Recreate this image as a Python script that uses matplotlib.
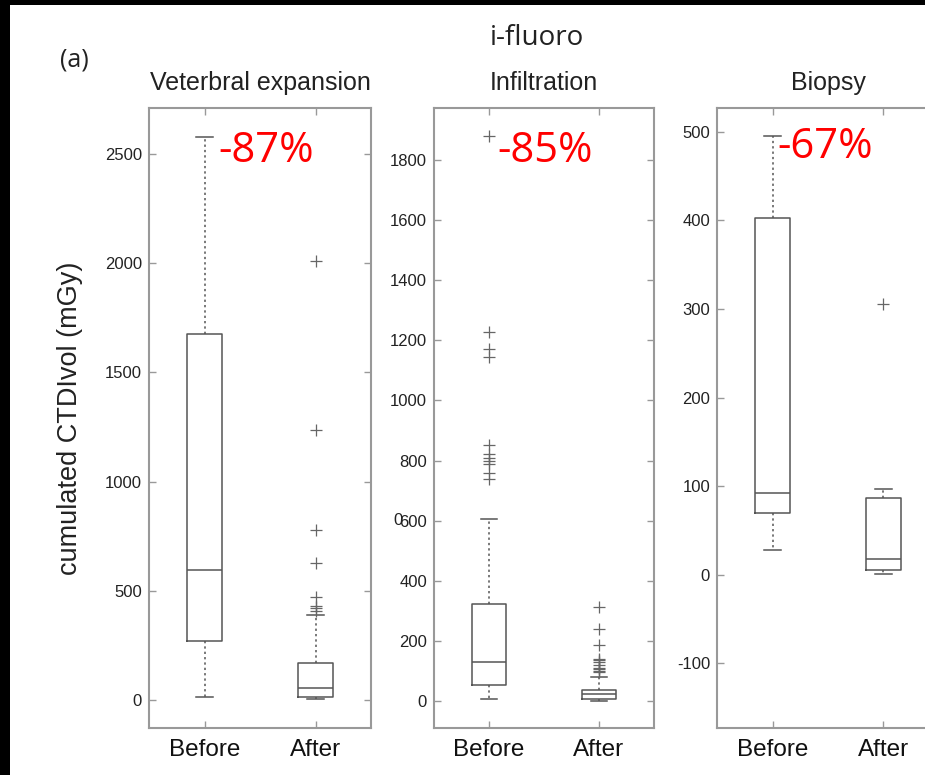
import matplotlib
matplotlib.use('Agg')
import matplotlib.pyplot as plt
from matplotlib.patches import Rectangle

groups = ['Before', 'After']
panel_titles = ['Veterbral expansion', 'Infiltration', 'Biopsy']
reductions = ['-87%', '-85%', '-67%']

# box statistics, [Before, After]
vert_q1 = [270, 14]
vert_med = [595, 55]
vert_q3 = [1675, 169]
vert_lo = [12, 3]
vert_hi = [2580, 389]
vert_fliers = [[], [408, 421, 430, 472, 627, 778, 1236, 2010]]

infil_q1 = [53, 7]
infil_med = [130, 22]
infil_q3 = [323, 37]
infil_lo = [5, 0]
infil_hi = [607, 80]
infil_fliers = [[737, 757, 790, 800, 810, 823, 850, 1143, 1170, 1227, 1880],
                [95, 100, 105, 110, 120, 130, 135, 140, 187, 240, 313]]

biop_q1 = [70, 5]
biop_med = [92, 18]
biop_q3 = [403, 87]
biop_lo = [28, 1]
biop_hi = [495, 97]
biop_fliers = [[], [306]]

vert_ticks = [0, 500, 1000, 1500, 2000, 2500]
infil_ticks = [0, 200, 400, 600, 800, 1000, 1200, 1400, 1600, 1800]
biop_ticks = [-100, 0, 100, 200, 300, 400, 500]


def make_stats(q1, med, q3, lo, hi, fliers):
    stats = []
    for i, name in enumerate(groups):
        stats.append({'label': name, 'q1': q1[i], 'med': med[i], 'q3': q3[i],
                      'whislo': lo[i], 'whishi': hi[i], 'fliers': fliers[i]})
    return stats


panels = [
    (make_stats(vert_q1, vert_med, vert_q3, vert_lo, vert_hi, vert_fliers), vert_ticks, (-128, 2711)),
    (make_stats(infil_q1, infil_med, infil_q3, infil_lo, infil_hi, infil_fliers), infil_ticks, (-90, 1973)),
    (make_stats(biop_q1, biop_med, biop_q3, biop_lo, biop_hi, biop_fliers), biop_ticks, (-173, 527)),
]

W, H = 925, 775
fig = plt.figure(figsize=(W / 100, H / 100), dpi=100)

lefts = [149, 434, 717]
widths = [222, 220, 222]
text_pos = [(0.311, 0.913), (0.286, 0.913), (0.27, 0.919)]

line_c = '#555555'
spine_c = '#999999'

for k, (stats, ticks, ylim) in enumerate(panels):
    ax = fig.add_axes([lefts[k] / W, 47 / H, widths[k] / W, 620 / H])
    ax.bxp(stats, positions=[1, 2], widths=0.31, capwidths=0.15,
           boxprops=dict(color=line_c, linewidth=1.1),
           medianprops=dict(color=line_c, linewidth=1.1),
           whiskerprops=dict(color=line_c, linewidth=1.1, linestyle=(0, (1.5, 2))),
           capprops=dict(color=line_c, linewidth=1.1),
           flierprops=dict(marker='+', markeredgecolor='#666666', markersize=9,
                           markeredgewidth=0.9))
    ax.set_xlim(0.5, 2.5)
    ax.set_ylim(*ylim)
    ax.set_yticks(ticks)
    ax.set_yticklabels([str(t) for t in ticks], fontsize=12, family='Liberation Sans', color='#222222')
    ax.set_xticks([1, 2])
    ax.set_xticklabels(groups, fontsize=17.5, family='Liberation Sans', color='#111111')
    ax.tick_params(axis='both', direction='in', top=True, right=True, length=5,
                   width=1, color=spine_c)
    ax.tick_params(axis='y', pad=5)
    ax.tick_params(axis='x', pad=8)
    for s in ax.spines.values():
        s.set_color(spine_c)
        s.set_linewidth(1.5)
    ax.set_title(panel_titles[k], fontsize=18, family='Liberation Sans', color='#222222', pad=13)
    ax.text(text_pos[k][0], text_pos[k][1], reductions[k], transform=ax.transAxes,
            color='#ff0000', fontsize=30, family='Open Sans', ha='left', va='baseline')
    if k == 0:
        ax.set_ylabel('cumulated CTDIvol (mGy)', fontsize=19.5, family='Liberation Sans',
                      color='#222222', labelpad=16)
    if k == 1:
        # stray overlapping "0" next to the 600 label
        ax.text(-0.142, 600, '0', transform=ax.get_yaxis_transform(), fontsize=12,
                family='Liberation Sans', color='#222222', ha='right', va='center')

fig.text(537 / W, 1 - 38 / H, 'i-fluoro', fontsize=20, family='Open Sans',
         color='#222222', ha='center', va='center')
fig.text(74 / W, 1 - 60 / H, '(a)', fontsize=18, family='Open Sans',
         color='#222222', ha='center', va='center')

# black scan borders
fig.patches.append(Rectangle((0, 1 - 5 / H), 1, 5 / H, transform=fig.transFigure,
                             facecolor='black', edgecolor='none', zorder=10))
fig.patches.append(Rectangle((0, 0), 10 / W, 1, transform=fig.transFigure,
                             facecolor='black', edgecolor='none', zorder=10))

fig.savefig('out.png', dpi=100)
